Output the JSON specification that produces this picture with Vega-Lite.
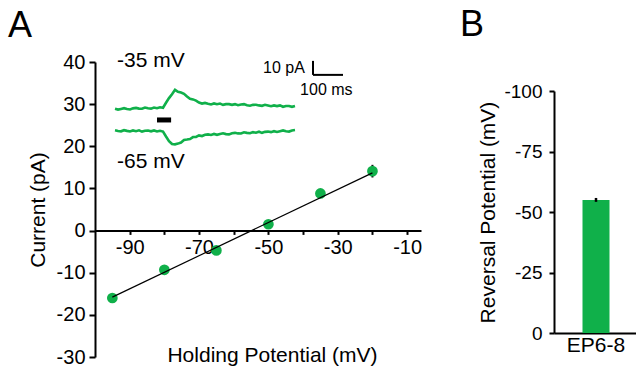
{
  "$schema": "https://vega.github.io/schema/vega-lite/v6.json",
  "padding": {"left": 8, "top": 7, "right": 0, "bottom": 0},
  "background": "white",
  "config": {
    "font": "Liberation Sans",
    "view": {"stroke": null},
    "axis": {"grid": false, "domainColor": "black", "tickColor": "black", "labelColor": "black", "titleColor": "black", "labelFontSize": 20, "titleFontSize": 21, "titleFontWeight": "normal", "domainWidth": 2, "tickWidth": 2},
    "title": {"fontSize": 36, "fontWeight": "normal", "anchor": "start", "frame": "bounds", "color": "black"}
  },
  "spacing": 37,
  "datasets": {
    "iv": [
      {"v": -95, "i": -16.0, "lo": -16.5, "hi": -15.5},
      {"v": -80, "i": -9.3, "lo": -9.8, "hi": -8.8},
      {"v": -65, "i": -4.7, "lo": -5.2, "hi": -4.2},
      {"v": -50, "i": 1.5, "lo": 1.0, "hi": 2.0},
      {"v": -35, "i": 8.8, "lo": 8.3, "hi": 9.3},
      {"v": -20, "i": 14.1, "lo": 12.6, "hi": 15.6}
    ],
    "fit": [
      {"v": -95, "i": -15.8},
      {"v": -20, "i": 13.7}
    ],
    "traces": [
      {"trace": "-35 mV", "t": 0, "a": -0.2}, {"trace": "-35 mV", "t": 10, "a": -0.8}, {"trace": "-35 mV", "t": 20, "a": -0.3}, {"trace": "-35 mV", "t": 30, "a": 0.2}, {"trace": "-35 mV", "t": 40, "a": -0.4}, {"trace": "-35 mV", "t": 50, "a": -0.7}, {"trace": "-35 mV", "t": 60, "a": 0.1}, {"trace": "-35 mV", "t": 70, "a": 0.4}, {"trace": "-35 mV", "t": 80, "a": -0.1}, {"trace": "-35 mV", "t": 90, "a": -0.2},
      {"trace": "-35 mV", "t": 100, "a": 0.7}, {"trace": "-35 mV", "t": 110, "a": 0.2}, {"trace": "-35 mV", "t": 120, "a": -0.1}, {"trace": "-35 mV", "t": 130, "a": 0.7}, {"trace": "-35 mV", "t": 140, "a": 0.2}, {"trace": "-35 mV", "t": 150, "a": 0.9}, {"trace": "-35 mV", "t": 160, "a": 0.5}, {"trace": "-35 mV", "t": 170, "a": 4.1}, {"trace": "-35 mV", "t": 180, "a": 7.4}, {"trace": "-35 mV", "t": 190, "a": 10.2},
      {"trace": "-35 mV", "t": 200, "a": 13.3}, {"trace": "-35 mV", "t": 210, "a": 11.9}, {"trace": "-35 mV", "t": 220, "a": 11.4}, {"trace": "-35 mV", "t": 230, "a": 10.5}, {"trace": "-35 mV", "t": 240, "a": 8.6}, {"trace": "-35 mV", "t": 250, "a": 7.0}, {"trace": "-35 mV", "t": 260, "a": 6.5}, {"trace": "-35 mV", "t": 270, "a": 5.6}, {"trace": "-35 mV", "t": 280, "a": 4.2}, {"trace": "-35 mV", "t": 290, "a": 3.5},
      {"trace": "-35 mV", "t": 300, "a": 4.0}, {"trace": "-35 mV", "t": 310, "a": 3.4}, {"trace": "-35 mV", "t": 320, "a": 2.9}, {"trace": "-35 mV", "t": 330, "a": 3.6}, {"trace": "-35 mV", "t": 340, "a": 3.0}, {"trace": "-35 mV", "t": 350, "a": 3.5}, {"trace": "-35 mV", "t": 360, "a": 2.6}, {"trace": "-35 mV", "t": 370, "a": 3.1}, {"trace": "-35 mV", "t": 380, "a": 3.1}, {"trace": "-35 mV", "t": 390, "a": 2.6},
      {"trace": "-35 mV", "t": 400, "a": 3.1}, {"trace": "-35 mV", "t": 410, "a": 2.3}, {"trace": "-35 mV", "t": 420, "a": 2.8}, {"trace": "-35 mV", "t": 430, "a": 3.1}, {"trace": "-35 mV", "t": 440, "a": 2.3}, {"trace": "-35 mV", "t": 450, "a": 2.0}, {"trace": "-35 mV", "t": 460, "a": 2.6}, {"trace": "-35 mV", "t": 470, "a": 2.7}, {"trace": "-35 mV", "t": 480, "a": 2.2}, {"trace": "-35 mV", "t": 490, "a": 1.9},
      {"trace": "-35 mV", "t": 500, "a": 2.6}, {"trace": "-35 mV", "t": 510, "a": 2.1}, {"trace": "-35 mV", "t": 520, "a": 1.6}, {"trace": "-35 mV", "t": 530, "a": 2.2}, {"trace": "-35 mV", "t": 540, "a": 1.7}, {"trace": "-35 mV", "t": 550, "a": 2.2}, {"trace": "-35 mV", "t": 560, "a": 1.2}, {"trace": "-35 mV", "t": 570, "a": 1.8}, {"trace": "-35 mV", "t": 580, "a": 1.8}, {"trace": "-35 mV", "t": 590, "a": 1.2}, {"trace": "-35 mV", "t": 600, "a": 1.8},
      {"trace": "-65 mV", "t": 0, "a": -15.6}, {"trace": "-65 mV", "t": 10, "a": -16.1}, {"trace": "-65 mV", "t": 20, "a": -16.3}, {"trace": "-65 mV", "t": 30, "a": -15.5}, {"trace": "-65 mV", "t": 40, "a": -16.0}, {"trace": "-65 mV", "t": 50, "a": -16.4}, {"trace": "-65 mV", "t": 60, "a": -15.7}, {"trace": "-65 mV", "t": 70, "a": -16.2}, {"trace": "-65 mV", "t": 80, "a": -15.6}, {"trace": "-65 mV", "t": 90, "a": -16.5},
      {"trace": "-65 mV", "t": 100, "a": -15.9}, {"trace": "-65 mV", "t": 110, "a": -15.8}, {"trace": "-65 mV", "t": 120, "a": -16.3}, {"trace": "-65 mV", "t": 130, "a": -15.7}, {"trace": "-65 mV", "t": 140, "a": -16.4}, {"trace": "-65 mV", "t": 150, "a": -15.9}, {"trace": "-65 mV", "t": 160, "a": -16.5}, {"trace": "-65 mV", "t": 170, "a": -20.0}, {"trace": "-65 mV", "t": 180, "a": -23.3}, {"trace": "-65 mV", "t": 190, "a": -25.4},
      {"trace": "-65 mV", "t": 200, "a": -25.6}, {"trace": "-65 mV", "t": 210, "a": -25.1}, {"trace": "-65 mV", "t": 220, "a": -24.3}, {"trace": "-65 mV", "t": 230, "a": -22.5}, {"trace": "-65 mV", "t": 240, "a": -22.2}, {"trace": "-65 mV", "t": 250, "a": -21.8}, {"trace": "-65 mV", "t": 260, "a": -20.4}, {"trace": "-65 mV", "t": 270, "a": -20.3}, {"trace": "-65 mV", "t": 280, "a": -19.2}, {"trace": "-65 mV", "t": 290, "a": -19.7},
      {"trace": "-65 mV", "t": 300, "a": -18.8}, {"trace": "-65 mV", "t": 310, "a": -18.5}, {"trace": "-65 mV", "t": 320, "a": -18.9}, {"trace": "-65 mV", "t": 330, "a": -18.2}, {"trace": "-65 mV", "t": 340, "a": -18.8}, {"trace": "-65 mV", "t": 350, "a": -18.2}, {"trace": "-65 mV", "t": 360, "a": -17.7}, {"trace": "-65 mV", "t": 370, "a": -18.3}, {"trace": "-65 mV", "t": 380, "a": -18.5}, {"trace": "-65 mV", "t": 390, "a": -17.7},
      {"trace": "-65 mV", "t": 400, "a": -17.4}, {"trace": "-65 mV", "t": 410, "a": -17.8}, {"trace": "-65 mV", "t": 420, "a": -17.9}, {"trace": "-65 mV", "t": 430, "a": -17.0}, {"trace": "-65 mV", "t": 440, "a": -17.4}, {"trace": "-65 mV", "t": 450, "a": -17.7}, {"trace": "-65 mV", "t": 460, "a": -16.9}, {"trace": "-65 mV", "t": 470, "a": -17.3}, {"trace": "-65 mV", "t": 480, "a": -16.6}, {"trace": "-65 mV", "t": 490, "a": -17.4},
      {"trace": "-65 mV", "t": 500, "a": -16.7}, {"trace": "-65 mV", "t": 510, "a": -16.5}, {"trace": "-65 mV", "t": 520, "a": -16.9}, {"trace": "-65 mV", "t": 530, "a": -16.2}, {"trace": "-65 mV", "t": 540, "a": -16.8}, {"trace": "-65 mV", "t": 550, "a": -16.2}, {"trace": "-65 mV", "t": 560, "a": -15.7}, {"trace": "-65 mV", "t": 570, "a": -16.3}, {"trace": "-65 mV", "t": 580, "a": -16.5}, {"trace": "-65 mV", "t": 590, "a": -15.7}, {"trace": "-65 mV", "t": 600, "a": -15.4}
    ]
  },
  "hconcat": [
    {
      "width": 326,
      "height": 295,
      "title": {"text": "A", "dx": -19, "offset": 5},
      "layer": [
        {
          "encoding": {
            "x": {"field": "v", "type": "quantitative", "scale": {"domain": [-100, -6], "nice": false, "zero": false},
              "axis": {"orient": "bottom", "offset": -126.6, "values": [-90, -80, -70, -60, -50, -40, -30, -20, -10], "labelExpr": "abs(datum.value) % 20 == 10 ? '' + datum.value : ''", "tickSize": 4, "labelPadding": 3, "title": "Holding Potential (mV)", "titleX": 177, "titleY": 125, "titleBaseline": "middle", "titleAlign": "center"}},
            "y": {"field": "i", "type": "quantitative", "scale": {"domain": [-30, 40], "nice": false, "zero": false},
              "axis": {"values": [-30, -20, -10, 0, 10, 20, 30, 40], "labelExpr": "'' + datum.value", "tickSize": 6, "labelPadding": 4, "title": "Current (pA)", "titlePadding": 8}}
          },
          "layer": [
            {
              "data": {"name": "iv"},
              "mark": {"type": "rule", "color": "black", "strokeWidth": 2},
              "encoding": {
                "y": {"field": "lo", "type": "quantitative", "scale": {"domain": [-30, 40], "nice": false, "zero": false}, "title": "Current (pA)"},
                "y2": {"field": "hi"}
              }
            },
            {
              "data": {"name": "iv"},
              "mark": {"type": "circle", "size": 115, "opacity": 1, "color": "#10b04a"}
            },
            {
              "data": {"name": "fit"},
              "mark": {"type": "line", "color": "black", "strokeWidth": 1.2}
            }
          ]
        },
        {
          "encoding": {
            "x": {"field": "t", "type": "quantitative", "scale": {"domain": [-66.7, 1020], "nice": false, "zero": false}, "axis": null},
            "y": {"field": "a", "type": "quantitative", "scale": {"domain": [-177.5, 33.2], "nice": false, "zero": false}, "axis": null}
          },
          "layer": [
            {
              "data": {"name": "traces"},
              "mark": {"type": "line", "color": "#10b04a", "strokeWidth": 2.6},
              "encoding": {"detail": {"field": "trace"}}
            },
            {
              "data": {"values": [{"t": 140, "t2": 187, "a": -8.2}]},
              "mark": {"type": "rule", "color": "black", "strokeWidth": 5},
              "encoding": {"x2": {"field": "t2"}}
            },
            {
              "data": {"values": [{"t": 660, "t2": 660, "a": 24, "a2": 34}, {"t": 660, "t2": 760, "a": 24, "a2": 24}]},
              "mark": {"type": "rule", "color": "black", "strokeWidth": 2},
              "encoding": {"x2": {"field": "t2"}, "y2": {"field": "a2"}}
            },
            {
              "data": {"values": [{"t": 7, "a": 34, "label": "-35 mV"}, {"t": 7, "a": -38.2, "label": "-65 mV"}]},
              "mark": {"type": "text", "fontSize": 21, "align": "left", "baseline": "middle", "color": "black"},
              "encoding": {"text": {"field": "label"}}
            },
            {
              "data": {"values": [{"t": 633, "a": 29.1, "label": "10 pA"}]},
              "mark": {"type": "text", "fontSize": 16, "align": "right", "baseline": "middle", "color": "black"},
              "encoding": {"text": {"field": "label"}}
            },
            {
              "data": {"values": [{"t": 617, "a": 13, "label": "100 ms"}]},
              "mark": {"type": "text", "fontSize": 16, "align": "left", "baseline": "middle", "color": "black"},
              "encoding": {"text": {"field": "label"}}
            }
          ]
        }
      ],
      "resolve": {"scale": {"x": "independent", "y": "independent"}}
    },
    {
      "width": 84,
      "height": 295,
      "title": {"text": "B", "dx": -18, "offset": 18},
      "data": {"values": [{"group": "EP6-8", "erev": -55, "lo": -54.2, "hi": -55.8}]},
      "layer": [
        {
          "mark": {"type": "bar", "size": 27, "color": "#10b04a"},
          "encoding": {
            "x": {"field": "group", "type": "nominal", "axis": {"title": null, "ticks": false, "labelAngle": 0, "labelFontSize": 21, "labelPadding": 1, "offset": -24}},
            "y": {"field": "erev", "type": "quantitative", "scale": {"domain": [0, -100], "nice": false, "zero": false, "range": [271, 29]},
              "axis": {"values": [0, -25, -50, -75, -100], "labelExpr": "'' + datum.value", "tickSize": 5, "labelFontSize": 19, "labelPadding": 7, "title": "Reversal Potential (mV)", "titlePadding": 5}}
          }
        },
        {
          "mark": {"type": "rule", "color": "black", "strokeWidth": 2.5},
          "encoding": {
            "x": {"field": "group", "type": "nominal"},
            "y": {"field": "lo", "type": "quantitative", "title": "Reversal Potential (mV)"},
            "y2": {"field": "hi"}
          }
        }
      ]
    }
  ]
}
